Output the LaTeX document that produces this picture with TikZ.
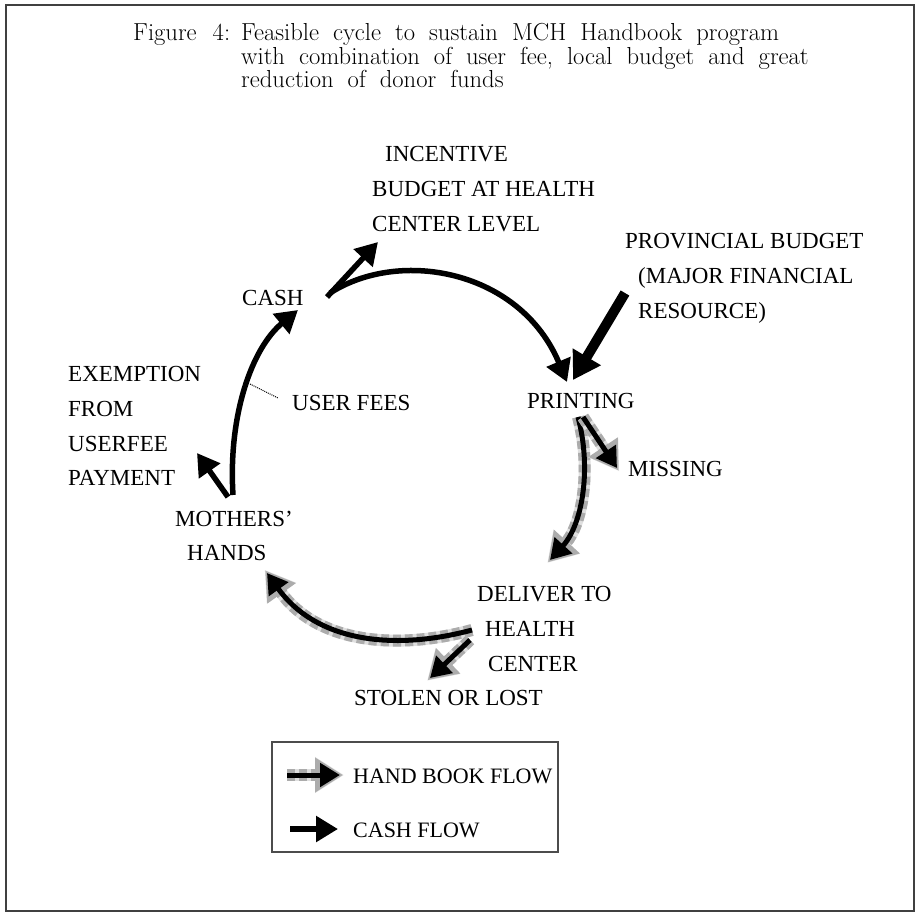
\documentclass[tikz,border=0pt]{standalone}
\usepackage{fontspec}
\newfontfamily\lbfamily{Liberation Serif}
\newcommand\myttlfont{\fontsize{24.6}{24}\selectfont\spaceskip 14pt\relax}
\usetikzlibrary{arrows.meta}
\begin{document}
\begin{tikzpicture}[x=1pt,y=-1pt,
  lbl/.style={font=\lbfamily\fontsize{23}{35}\selectfont, inner sep=0pt},
  ttl/.style={font=\myttlfont, inner sep=0pt, anchor=base west},
  cashflow/.style={draw=black, line width=5.5pt, -{Triangle[length=22pt,width=25pt]}},
  bigcash/.style={draw=black, line width=10pt, -{Triangle[length=27pt,width=31pt]}},
  bookflow/.style={draw=black, line width=5pt, -{Triangle[length=20pt,width=23pt]},
    preaction={draw=gray!25, line width=12pt,
      shorten >=-4pt, -{Triangle[length=29pt,width=34pt]}},
    preaction={draw=gray!65, line width=12pt, dash pattern=on 8pt off 4pt,
      shorten >=-3pt, -{Triangle[length=28pt,width=33pt]}}},
]
\useasboundingbox (0,0) rectangle (917,914);
\draw[line width=2pt, black!75] (6,5) rectangle (914,911);

% title
\node[ttl] (t0) at (133,40) {Figure\hspace{16pt}4:};
\node[ttl] (t1) at (241,40) {Feasible cycle to sustain MCH Handbook program};
\node[ttl] (t2) at (241,64) {with combination of user fee, local budget and great};
\node[ttl] (t3) at (241,87) {reduction of donor funds};

% labels
\node[lbl, anchor=base west] (inc1) at (385,161) {INCENTIVE};
\node[lbl, anchor=base west] (inc2) at (372,196) {BUDGET AT HEALTH};
\node[lbl, anchor=base west] (inc3) at (372,231) {CENTER LEVEL};
\node[lbl, anchor=base west] (prov1) at (625,248) {PROVINCIAL BUDGET};
\node[lbl, anchor=base west] (prov2) at (638,283) {(MAJOR FINANCIAL};
\node[lbl, anchor=base west] (prov3) at (638,318) {RESOURCE)};
\node[lbl, anchor=base west] (cash) at (242,305) {CASH};
\node[lbl, anchor=base west] (ex1) at (68,381) {EXEMPTION};
\node[lbl, anchor=base west] (ex2) at (68,416) {FROM};
\node[lbl, anchor=base west] (ex3) at (68,451) {USERFEE};
\node[lbl, anchor=base west] (ex4) at (68,485) {PAYMENT};
\node[lbl, anchor=base west] (fees) at (292,410) {USER FEES};
\node[lbl, anchor=base west] (print) at (527,408) {PRINTING};
\node[lbl, anchor=base west] (miss) at (628,476) {MISSING};
\node[lbl, anchor=base west] (moth1) at (175,526) {MOTHERS’};
\node[lbl, anchor=base west] (moth2) at (187,560) {HANDS};
\node[lbl, anchor=base west] (del1) at (477,601) {DELIVER TO};
\node[lbl, anchor=base west] (del2) at (485,636) {HEALTH};
\node[lbl, anchor=base west] (del3) at (488,671) {CENTER};
\node[lbl, anchor=base east] (stol) at (543,705) {STOLEN OR LOST};

% arrow end points
\coordinate (mothTop) at (233,495);
\coordinate (mothTopL) at (228,497);
\coordinate (cashIn) at (298,310);
\coordinate (exTip) at (197,453);
\coordinate (arcPt) at (250,384);
\coordinate (feesPt) at (278,398);
\coordinate (cashOut) at (330,293);
\coordinate (cashOutB) at (327,297);
\coordinate (incTip) at (378,242);
\coordinate (printIn) at (567,382);
\coordinate (provBase) at (625,293);
\coordinate (provTip) at (573,380);
\coordinate (printOut) at (578,417);
\coordinate (printOutR) at (583,417);
\coordinate (missTip) at (617,468);
\coordinate (delIn) at (550,560);
\coordinate (delOut) at (472,630);
\coordinate (delOutB) at (470,640);
\coordinate (stolTip) at (430,678);
\coordinate (handsIn) at (267,573);

% cash flow
\draw[cashflow] (mothTop) .. controls (228,415) and (252,348) .. (cashIn);
\draw[cashflow] (mothTopL) -- (exTip);
\draw[densely dotted, line width=1pt] (arcPt) -- (feesPt);
\draw[cashflow] (cashOut) .. controls (400,248) and (520,270) .. (printIn);
\draw[cashflow] (cashOutB) -- (incTip);
\draw[bigcash] (provBase) -- (provTip);

% hand book flow
\draw[bookflow] (printOut) .. controls (592,470) and (582,525) .. (delIn);
\draw[bookflow] (printOutR) -- (missTip);
\draw[bookflow] (delOut) .. controls (390,652) and (315,640) .. (handsIn);
\draw[bookflow] (delOutB) -- (stolTip);

% legend
\node[draw=black!70, line width=1.2pt, minimum width=286pt, minimum height=110pt, inner sep=0pt] (legend) at (415,797) {};
\coordinate (hbA) at (287,775);
\coordinate (hbB) at (340,775);
\coordinate (cfA) at (290,829);
\coordinate (cfB) at (338,829);
\draw[bookflow] (hbA) -- (hbB);
\draw[cashflow] (cfA) -- (cfB);
\node[lbl, anchor=base west, font=\lbfamily\fontsize{22}{35}\selectfont] (hbtxt) at (353,783) {HAND BOOK FLOW};
\node[lbl, anchor=base west, font=\lbfamily\fontsize{22}{35}\selectfont] (cftxt) at (353,837) {CASH FLOW};
\end{tikzpicture}
\end{document}
